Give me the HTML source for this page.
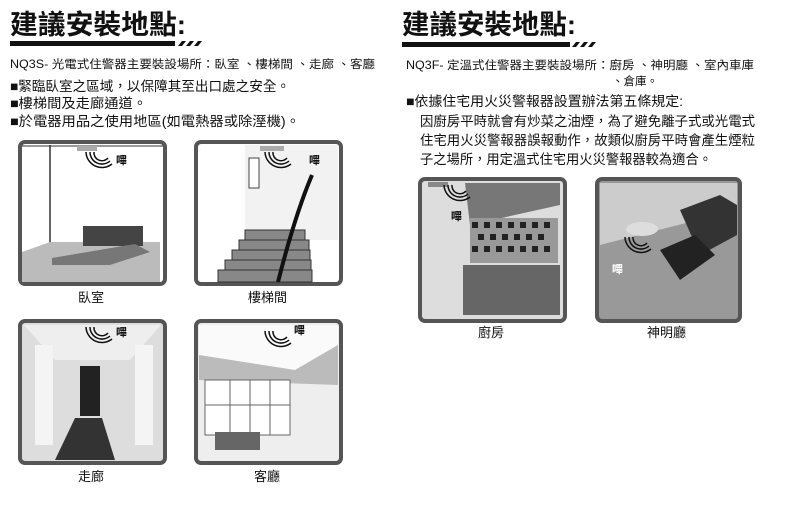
<!DOCTYPE html>
<html><head><meta charset="utf-8"><style>
html,body{margin:0;padding:0;background:#fff;}
body{width:803px;height:512px;overflow:hidden;}
text{font-family:"Liberation Sans","Noto Sans CJK TC",sans-serif;fill:#111;}
</style></head><body>
<svg width="803" height="512" viewBox="0 0 803 512" xmlns="http://www.w3.org/2000/svg">
<defs>
<g id="beep"><path d="M-10,-6 a8,8 0 0 0 14,6" fill="none" stroke="#111" stroke-width="1.5"/><path d="M-14,-6 a12,12 0 0 0 20,9" fill="none" stroke="#111" stroke-width="1.5"/><path d="M-18,-6 a16,16 0 0 0 26,12" fill="none" stroke="#111" stroke-width="1.5"/></g>
</defs>
<!-- titles -->
<text x="10" y="34" font-size="27" font-weight="bold" textLength="176" lengthAdjust="spacingAndGlyphs">建議安裝地點:</text>
<rect x="10" y="41" width="165" height="5" fill="#111"/>
<polygon points="178,46 182,41 186,41 182,46" fill="#111"/><polygon points="186,46 190,41 194,41 190,46" fill="#111"/><polygon points="194,46 198,41 202,41 198,46" fill="#111"/>
<text x="402" y="34" font-size="27" font-weight="bold" textLength="174" lengthAdjust="spacingAndGlyphs">建議安裝地點:</text>
<rect x="402" y="42" width="168" height="5" fill="#111"/>
<polygon points="572,47 576,42 580,42 576,47" fill="#111"/><polygon points="580,47 584,42 588,42 584,47" fill="#111"/><polygon points="588,47 592,42 596,42 592,47" fill="#111"/>
<!-- left text -->
<text x="10" y="68" font-size="11.5" textLength="365" lengthAdjust="spacingAndGlyphs">NQ3S- 光電式住警器主要裝設場所：臥室 、樓梯間 、走廊 、客廳</text>
<text x="10" y="91" font-size="13.5" textLength="280" lengthAdjust="spacingAndGlyphs">■緊臨臥室之區域，以保障其至出口處之安全。</text>
<text x="10" y="108" font-size="13.5" textLength="137" lengthAdjust="spacingAndGlyphs">■樓梯間及走廊通道。</text>
<text x="10" y="126" font-size="13.5" textLength="290" lengthAdjust="spacingAndGlyphs">■於電器用品之使用地區(如電熱器或除溼機)。</text>
<!-- right text -->
<text x="406" y="69" font-size="11.5" textLength="348" lengthAdjust="spacingAndGlyphs">NQ3F- 定溫式住警器主要裝設場所：廚房 、神明廳 、室內車庫</text>
<text x="612" y="85" font-size="11.5">、倉庫。</text>
<text x="406" y="106" font-size="13.5" textLength="277" lengthAdjust="spacingAndGlyphs">■依據住宅用火災警報器設置辦法第五條規定:</text>
<text x="420" y="126" font-size="13.5" textLength="335" lengthAdjust="spacingAndGlyphs">因廚房平時就會有炒菜之油煙，為了避免離子式或光電式</text>
<text x="420" y="145" font-size="13.5" textLength="335" lengthAdjust="spacingAndGlyphs">住宅用火災警報器誤報動作，故類似廚房平時會產生煙粒</text>
<text x="420" y="164" font-size="13.5" textLength="292" lengthAdjust="spacingAndGlyphs">子之場所，用定溫式住宅用火災警報器較為適合。</text>

<!-- bedroom -->
<rect x="20" y="142" width="145" height="142" rx="5" fill="#fff" stroke="#555" stroke-width="4"/>
<line x1="50" y1="145" x2="50" y2="245" stroke="#333" stroke-width="1.5"/>
<line x1="22" y1="146" x2="163" y2="146" stroke="#333"/>
<polygon points="22,252 50,242 160,242 160,282 22,282" fill="#bbb"/>
<rect x="83" y="226" width="60" height="20" fill="#444"/>
<polygon points="52,258 135,244 150,252 110,265 52,265" fill="#777"/>
<rect x="77" y="146" width="20" height="5" fill="#aaa"/>
<use href="#beep" x="104" y="158"/><text x="116" y="164" font-size="11" font-weight="bold">嗶</text>
<text x="78" y="302" font-size="13">臥室</text>
<!-- stairs -->
<rect x="196" y="142" width="145" height="142" rx="5" fill="#fff" stroke="#555" stroke-width="4"/>
<rect x="245" y="145" width="93" height="95" fill="#f2f2f2"/>
<rect x="249" y="158" width="10" height="30" fill="#fff" stroke="#444"/>
<rect x="260" y="146" width="24" height="5" fill="#aaa"/>
<g fill="#888" stroke="#333"><rect x="245" y="230" width="60" height="10"/><rect x="239" y="240" width="70" height="10"/><rect x="232" y="250" width="78" height="10"/><rect x="225" y="260" width="86" height="10"/><rect x="218" y="270" width="94" height="12"/></g>
<path d="M312,175 Q295,215 278,282" stroke="#111" stroke-width="4" fill="none"/>
<use href="#beep" x="283" y="158"/><text x="309" y="164" font-size="11" font-weight="bold">嗶</text>
<text x="248" y="302" font-size="13">樓梯間</text>
<!-- corridor -->
<rect x="20" y="321" width="145" height="142" rx="5" fill="#ddd" stroke="#555" stroke-width="4"/>
<polygon points="24,325 161,325 130,360 55,360" fill="#eee"/>
<rect x="35" y="345" width="18" height="100" fill="#f4f4f4"/><rect x="135" y="345" width="18" height="100" fill="#f4f4f4"/>
<rect x="80" y="366" width="20" height="50" fill="#222"/>
<polygon points="75,418 102,418 115,460 55,460" fill="#333"/>
<use href="#beep" x="104" y="333"/><text x="116" y="336" font-size="11" font-weight="bold">嗶</text>
<text x="78" y="481" font-size="13">走廊</text>
<!-- living room -->
<rect x="196" y="321" width="145" height="142" rx="5" fill="#eee" stroke="#555" stroke-width="4"/>
<polygon points="199,325 338,325 338,345 295,370 199,355" fill="#fafafa"/>
<polygon points="199,355 295,370 338,345 338,385 199,380" fill="#bbb"/>
<rect x="205" y="380" width="85" height="55" fill="#fff" stroke="#666"/>
<line x1="230" y1="380" x2="230" y2="435" stroke="#666"/><line x1="250" y1="380" x2="250" y2="435" stroke="#666"/><line x1="270" y1="380" x2="270" y2="435" stroke="#666"/><line x1="205" y1="405" x2="290" y2="405" stroke="#666"/>
<rect x="215" y="432" width="45" height="18" fill="#666"/>
<use href="#beep" x="283" y="337"/><text x="294" y="334" font-size="11" font-weight="bold">嗶</text>
<text x="254" y="481" font-size="13">客廳</text>
<!-- kitchen -->
<rect x="420" y="179" width="145" height="142" rx="5" fill="#ddd" stroke="#555" stroke-width="4"/>
<polygon points="465,183 560,183 560,205 470,225" fill="#777"/>
<rect x="470" y="218" width="88" height="45" fill="#999"/>
<g fill="#222"><rect x="472" y="222" width="6" height="6"/><rect x="484" y="222" width="6" height="6"/><rect x="496" y="222" width="6" height="6"/><rect x="508" y="222" width="6" height="6"/><rect x="520" y="222" width="6" height="6"/><rect x="532" y="222" width="6" height="6"/><rect x="544" y="222" width="6" height="6"/><rect x="478" y="234" width="6" height="6"/><rect x="490" y="234" width="6" height="6"/><rect x="502" y="234" width="6" height="6"/><rect x="514" y="234" width="6" height="6"/><rect x="526" y="234" width="6" height="6"/><rect x="538" y="234" width="6" height="6"/><rect x="472" y="246" width="6" height="6"/><rect x="484" y="246" width="6" height="6"/><rect x="496" y="246" width="6" height="6"/><rect x="508" y="246" width="6" height="6"/><rect x="520" y="246" width="6" height="6"/><rect x="532" y="246" width="6" height="6"/><rect x="544" y="246" width="6" height="6"/></g>
<rect x="463" y="265" width="97" height="50" fill="#666"/>
<rect x="428" y="182" width="20" height="5" fill="#888"/>
<use href="#beep" x="462" y="191"/><text x="451" y="220" font-size="11" font-weight="bold">嗶</text>
<text x="478" y="337" font-size="13">廚房</text>
<!-- shrine -->
<rect x="597" y="179" width="143" height="142" rx="5" fill="#999" stroke="#555" stroke-width="4"/>
<polygon points="600,183 737,183 737,210 600,245" fill="#ccc"/>
<polygon points="680,210 720,195 737,205 737,235 700,255" fill="#333"/>
<polygon points="660,250 695,235 715,255 680,280" fill="#222"/>
<ellipse cx="642" cy="229" rx="16" ry="7" fill="#ddd"/>
<use href="#beep" x="643" y="243"/><text x="612" y="273" font-size="11" font-weight="bold" style="fill:#fff">嗶</text>
<text x="647" y="337" font-size="13">神明廳</text>
</svg>
</body></html>
